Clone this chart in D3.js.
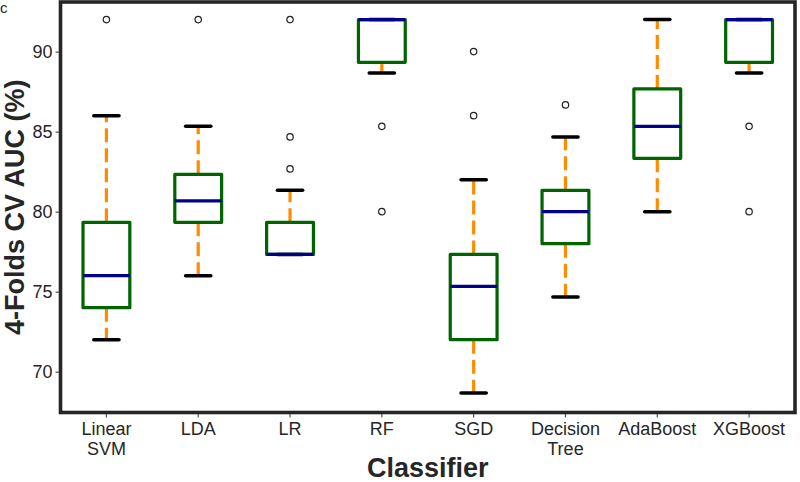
<!DOCTYPE html>
<html>
<head>
<meta charset="utf-8">
<script src="https://cdn.jsdelivr.net/npm/d3@7"></script>
<style>
  html, body { margin: 0; padding: 0; background: #fff; }
  svg { display: block; font-family: "Liberation Sans", Arial, sans-serif; }
</style>
</head>
<body>
<svg id="chart" width="800" height="482"></svg>
<script>
// ---- data ----
const categories = ["Linear\nSVM", "LDA", "LR", "RF", "SGD", "Decision\nTree", "AdaBoost", "XGBoost"];
const whiskerLow  = [72.00, 76.00, 77.33, 88.67, 68.67, 74.67, 80.00, 88.67];
const q1          = [74.00, 79.33, 77.33, 89.33, 72.00, 78.00, 83.33, 89.33];
const medians     = [76.00, 80.67, 77.33, 92.00, 75.33, 80.00, 85.33, 92.00];
const q3          = [79.33, 82.33, 79.33, 92.00, 77.33, 81.33, 87.67, 92.00];
const whiskerHigh = [86.00, 85.33, 81.33, 92.00, 82.00, 84.67, 92.00, 92.00];
const outliers    = [[92], [92], [92, 84.67, 82.67], [85.33, 80], [90, 86], [86.67], [], [85.33, 80]];
const yTicks = [70, 75, 80, 85, 90];
const xTitle = "Classifier";
const yTitle = "4-Folds CV AUC (%)";
const panelLabel = "c";

// ---- layout ----
const svg = d3.select("#chart");
const L = 60.5, R = 795, T = 2, B = 412.5;
const x = d3.scaleBand().domain(categories).range([L, R]).padding(0);
const y = d3.scaleLinear().domain([67.45, 93.1]).range([B, T]);
const bw = x.bandwidth();
const boxW = bw * 0.51, capW = bw * 0.275;
const textCol = "#262626";

const data = categories.map((c, i) => ({
  c, lo: whiskerLow[i], q1: q1[i], med: medians[i], q3: q3[i], hi: whiskerHigh[i], out: outliers[i]
}));

// y axis ticks
const yAxis = d3.axisLeft(y).tickValues(yTicks).tickSize(5).tickPadding(3).tickFormat(d3.format("d"));
const gy = svg.append("g").attr("transform", `translate(${L},0)`).call(yAxis);
gy.select(".domain").remove();
gy.selectAll(".tick line").attr("stroke", "#555").attr("stroke-width", 1.2);
gy.selectAll(".tick text").attr("fill", textCol).attr("font-size", 18)
  .attr("font-family", "'Liberation Sans', Arial, sans-serif");

// x axis ticks
const xAxis = d3.axisBottom(x).tickSize(4).tickFormat("");
const gx = svg.append("g").attr("transform", `translate(0,${B + 1})`).call(xAxis);
gx.select(".domain").remove();
gx.selectAll(".tick line").attr("stroke", "#555").attr("stroke-width", 1.2);
gx.selectAll(".tick").each(function(d) {
  const lines = d.split("\n");
  const t = d3.select(this).append("text")
    .attr("fill", textCol).attr("font-size", 18).attr("text-anchor", "middle")
    .attr("font-family", "'Liberation Sans', Arial, sans-serif");
  lines.forEach((ln, k) => t.append("tspan").attr("x", 0).attr("y", 21 + k * 20).text(ln));
});

// boxes
const g = svg.append("g");
const item = g.selectAll("g.box").data(data).join("g").attr("class", "box")
  .attr("transform", d => `translate(${x(d.c) + bw / 2},0)`);

// whiskers (dashed, drawn from box edges outward)
item.append("line").attr("x1", 0).attr("x2", 0)
  .attr("y1", d => y(d.q3)).attr("y2", d => y(d.hi))
  .attr("stroke", "#ff8c00").attr("stroke-width", 3.2).attr("stroke-dasharray", "14,6");
item.append("line").attr("x1", 0).attr("x2", 0)
  .attr("y1", d => y(d.q1)).attr("y2", d => y(d.lo))
  .attr("stroke", "#ff8c00").attr("stroke-width", 3.2).attr("stroke-dasharray", "14,6");

// caps
item.append("line").attr("x1", -capW / 2).attr("x2", capW / 2)
  .attr("y1", d => y(d.hi)).attr("y2", d => y(d.hi))
  .attr("stroke", "#000").attr("stroke-width", 3.5).attr("stroke-linecap", "round");
item.append("line").attr("x1", -capW / 2).attr("x2", capW / 2)
  .attr("y1", d => y(d.lo)).attr("y2", d => y(d.lo))
  .attr("stroke", "#000").attr("stroke-width", 3.5).attr("stroke-linecap", "round");

// box
item.append("rect").attr("x", -boxW / 2).attr("width", boxW)
  .attr("y", d => y(d.q3)).attr("height", d => y(d.q1) - y(d.q3))
  .attr("fill", "none").attr("stroke", "#006400").attr("stroke-width", 3.2)
  .attr("stroke-linejoin", "round");

// median
item.append("line").attr("x1", -boxW / 2).attr("x2", boxW / 2)
  .attr("y1", d => y(d.med)).attr("y2", d => y(d.med))
  .attr("stroke", "#00008b").attr("stroke-width", 3.2);

// outliers
item.selectAll("circle").data(d => d.out).join("circle")
  .attr("cx", 0).attr("cy", v => y(v)).attr("r", 3.2)
  .attr("fill", "none").attr("stroke", "#222").attr("stroke-width", 1.2);

// frame
svg.append("rect").attr("x", L).attr("y", T).attr("width", R - L).attr("height", B - T)
  .attr("fill", "none").attr("stroke", "#262626").attr("stroke-width", 3.6);

// titles
svg.append("text").attr("x", (L + R) / 2).attr("y", 477)
  .attr("text-anchor", "middle").attr("font-size", 27).attr("font-weight", "bold")
  .attr("fill", textCol).text(xTitle);
svg.append("text").attr("transform", `translate(24,${(T + B) / 2}) rotate(-90)`)
  .attr("text-anchor", "middle").attr("font-size", 27).attr("font-weight", "bold")
  .attr("fill", textCol).text(yTitle);
svg.append("text").attr("x", 0).attr("y", 13).attr("font-size", 15)
  .attr("fill", textCol).text(panelLabel);
</script>
</body>
</html>
